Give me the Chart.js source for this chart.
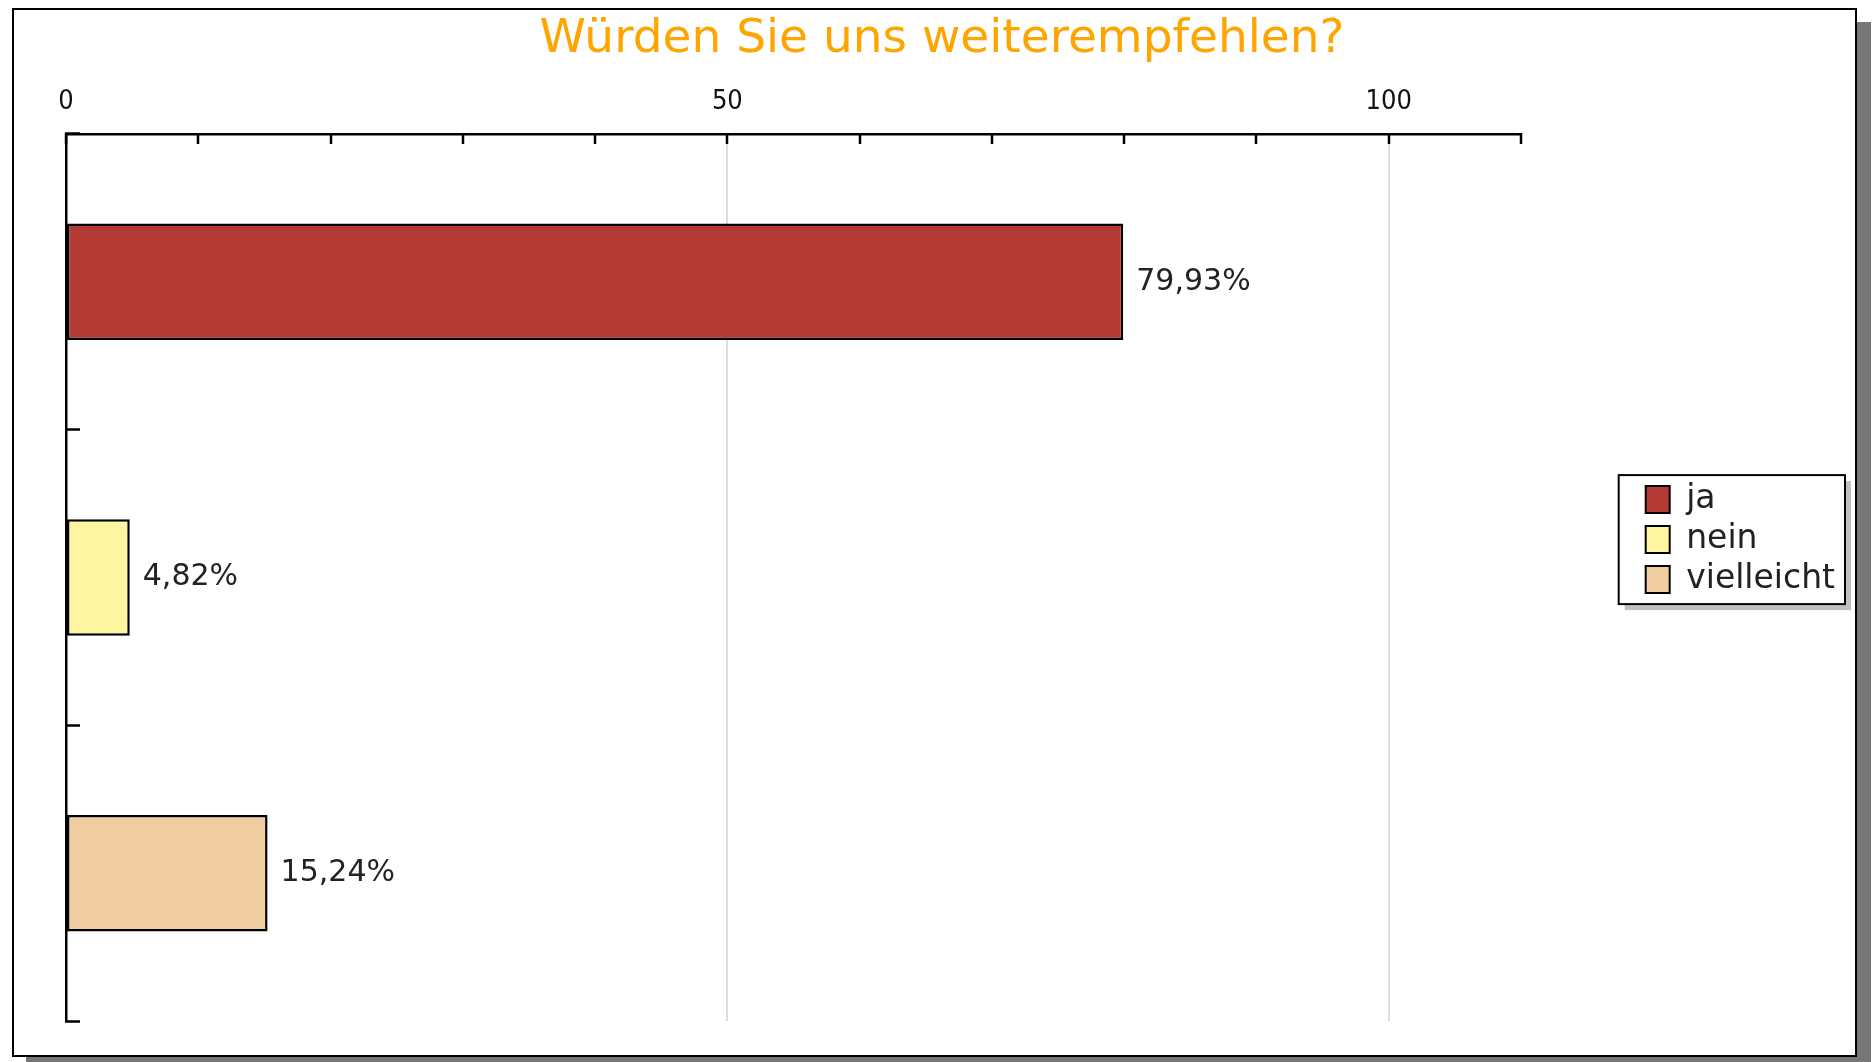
<!DOCTYPE html>
<html lang="de">
<head>
    <meta charset="UTF-8">
    <title>Würden Sie uns weiterempfehlen?</title>
    <script src="https://cdn.jsdelivr.net/npm/chart.js"></script>
    <style>
        html, body {
            margin: 0;
            padding: 0;
            background: #fff;
            width: 1872px;
            height: 1062px;
            overflow: hidden;
        }

        #frame {
            position: absolute;
            left: 12px;
            top: 8px;
            width: 1841px;
            height: 1045px;
            border: 2px solid #000;
            background: #fff;
            box-shadow: 14px 14px 0 #777;
        }

        #chart {
            position: absolute;
            left: 0;
            top: 0;
        }
    </style>
</head>
<body>
    <div id="frame"></div>
    <canvas id="chart" width="1872" height="1062"></canvas>

    <script>
        // Antworten und Anteile in Prozent
        const categories = ['ja', 'nein', 'vielleicht'];
        const shares = [79.93, 4.82, 15.24];
        const barColors = ['#b33a35', '#fff5a0', '#f0cda0'];
        const shownTicks = [0, 50, 100];
        const gridTicks = [50, 100];

        const plotRight = 1521;   // right end of the value axis
        const padLeft = 39;
        const padRight = 27;
        const titleSize = 47;
        const titleTop = 12;

        // Prozentwerte rechts neben die Balken schreiben
        const valueLabels = {
            id: 'valueLabels',
            afterDatasetsDraw(chart) {
                const ctx = chart.ctx;
                const meta = chart.getDatasetMeta(0);
                ctx.save();
                ctx.font = '30px "DejaVu Sans"';
                ctx.fillStyle = '#222';
                ctx.textAlign = 'left';
                ctx.textBaseline = 'middle';
                meta.data.forEach((bar, i) => {
                    const txt = shares[i].toFixed(2).replace('.', ',') + '%';
                    ctx.fillText(txt, bar.x + 13, bar.y);
                });
                ctx.restore();
            }
        };

        // Rahmen mit Schatten um die Legende
        const legendFrame = {
            id: 'legendFrame',
            beforeDraw(chart) {
                const boxes = chart.legend && chart.legend.legendHitBoxes;
                if (!boxes || !boxes.length) return;
                const left = boxes[0].left - 27;
                const top = boxes[0].top - 8;
                const right = Math.max(...boxes.map(b => b.left + b.width)) + 10;
                const last = boxes[boxes.length - 1];
                const bottom = last.top + last.height + 8;
                const ctx = chart.ctx;
                ctx.save();
                ctx.fillStyle = '#c0c0c0';
                ctx.fillRect(left + 6, top + 6, right - left, bottom - top);
                ctx.fillStyle = '#fff';
                ctx.fillRect(left, top, right - left, bottom - top);
                ctx.strokeStyle = '#000';
                ctx.lineWidth = 2;
                ctx.strokeRect(left, top, right - left, bottom - top);
                ctx.restore();
            }
        };

        const ctx = document.getElementById('chart').getContext('2d');
        new Chart(ctx, {
            type: 'bar',
            data: {
                labels: categories,
                datasets: [{
                    data: shares,
                    backgroundColor: barColors,
                    borderColor: '#000',
                    borderWidth: 2.5,
                    borderSkipped: false,
                    categoryPercentage: 1,
                    barPercentage: 0.394
                }]
            },
            plugins: [valueLabels, legendFrame],
            options: {
                indexAxis: 'y',
                responsive: false,
                animation: false,
                devicePixelRatio: 1,
                layout: {
                    padding: { left: padLeft, right: padRight, top: 0, bottom: 41 }
                },
                plugins: {
                    title: {
                        display: true,
                        text: 'Würden Sie uns weiterempfehlen?',
                        color: '#ffa500',
                        font: { family: 'DejaVu Sans', size: titleSize, weight: 'normal', lineHeight: 1.2 },
                        padding: { top: titleTop, bottom: 0 }
                    },
                    legend: {
                        display: true,
                        position: 'right',
                        align: 'center',
                        title: {
                            display: true,
                            text: '',
                            font: { size: 1 },
                            padding: { top: 57, bottom: 0 }
                        },
                        labels: {
                            boxWidth: 24,
                            boxHeight: 27,
                            padding: 7,
                            color: '#222',
                            font: { family: 'DejaVu Sans', size: 33 },
                            generateLabels: () => categories.map((c, i) => ({
                                text: c,
                                fillStyle: barColors[i],
                                strokeStyle: '#000',
                                fontColor: '#222',
                                lineWidth: 2,
                                hidden: false,
                                index: i
                            }))
                        },
                        onClick: null
                    },
                    tooltip: { enabled: false }
                },
                scales: {
                    x: {
                        position: 'top',
                        min: 0,
                        max: 110,
                        afterFit: s => { s.height = 134 - titleTop - titleSize * 1.2; },
                        ticks: {
                            stepSize: 10,
                            autoSkip: false,
                            maxRotation: 0,
                            padding: 26,
                            color: '#111',
                            font: { family: 'DejaVu Sans Condensed', size: 27 },
                            callback: v => shownTicks.includes(v) ? String(v) : ''
                        },
                        grid: {
                            color: c => (c.tick && gridTicks.includes(c.tick.value)) ? '#dddddd' : 'rgba(0,0,0,0)',
                            lineWidth: 2,
                            tickColor: '#000',
                            tickWidth: 2.5,
                            tickLength: -10
                        },
                        border: { display: true, color: '#000', width: 2.5 }
                    },
                    y: {
                        afterFit: s => { s.width = 66 - padLeft; },
                        ticks: { display: false },
                        grid: {
                            offset: true,
                            drawOnChartArea: false,
                            tickColor: '#000',
                            tickWidth: 2.5,
                            tickLength: -14
                        },
                        border: { display: true, color: '#000', width: 2.5 }
                    },
                    gap: {
                        type: 'linear',
                        axis: 'y',
                        position: 'right',
                        ticks: { display: false },
                        grid: { display: false },
                        border: { display: false },
                        afterFit: s => {
                            const lw = s.chart.legend ? s.chart.legend.width : 210;
                            s.width = Math.max(0, s.chart.width - padRight - lw - plotRight);
                        }
                    }
                }
            }
        });
    </script>
</body>
</html>
